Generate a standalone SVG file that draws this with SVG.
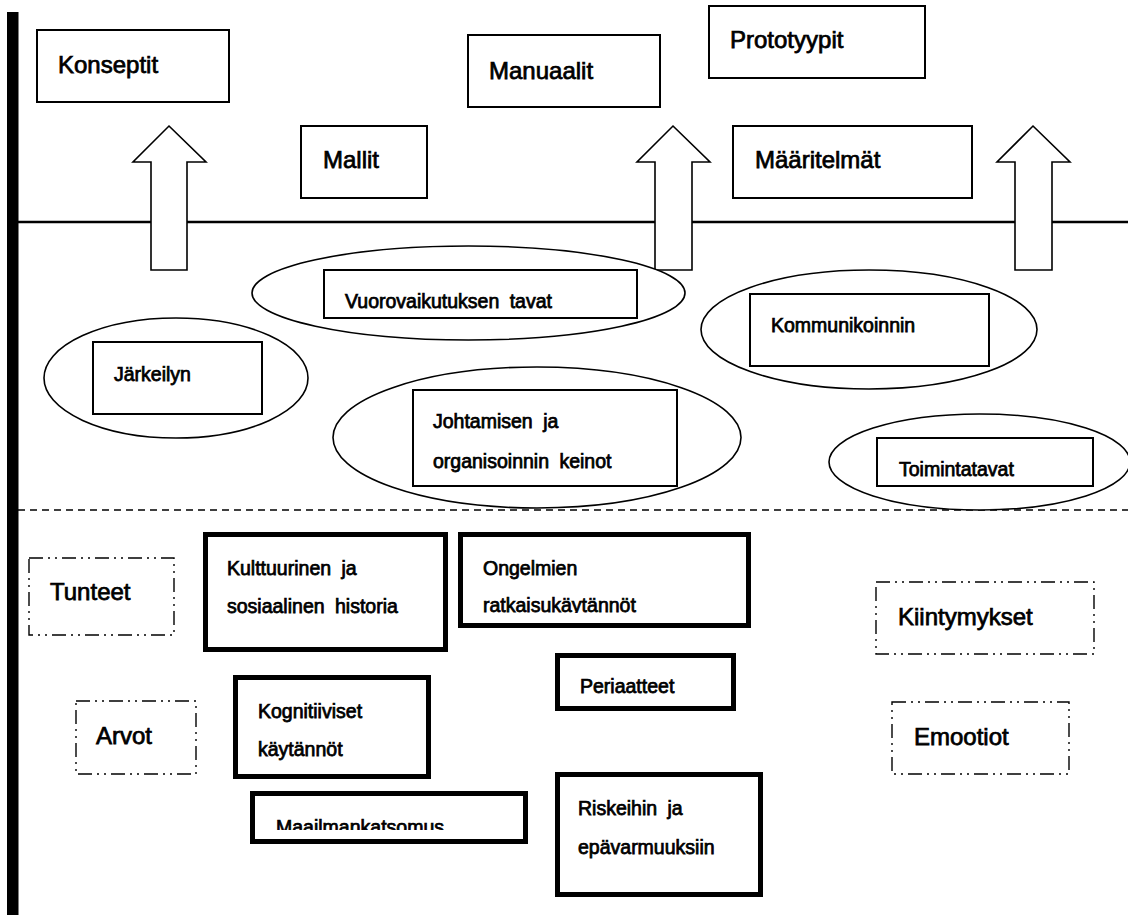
<svg xmlns="http://www.w3.org/2000/svg" width="1128" height="915" viewBox="0 0 1128 915">
  <style>
    .box{fill:#fff;stroke:#000;stroke-width:2}
    .thick{fill:#fff;stroke:#000;stroke-width:5}
    .dd{fill:#fff;stroke:#000;stroke-width:1.4;stroke-dasharray:14 5 2 5 2 5}
    .ell{fill:#fff;stroke:#000;stroke-width:1.6}
    .arrow{fill:#fff;stroke:#000;stroke-width:1.6;stroke-linejoin:miter}
    text{font-family:"Liberation Sans",Arial,Helvetica,sans-serif;fill:#000;stroke:#000;stroke-width:0.75}
    .lg{font-size:24px}
    .sm{font-size:19.5px;word-spacing:5px}
  </style>
  <defs>
    <clipPath id="clipRatk"><rect x="458" y="532" width="293" height="81"/></clipPath>
    <clipPath id="clipMaail"><rect x="250" y="791" width="278" height="39"/></clipPath>
  </defs>

  <!-- frame lines -->
  <g id="frame">
    <rect x="7" y="12" width="11.5" height="903" fill="#000"/>
    <line x1="18" y1="222" x2="1128" y2="222" stroke="#000" stroke-width="2.6"/>
    <line x1="18" y1="510" x2="1128" y2="510" stroke="#000" stroke-width="1.3" stroke-dasharray="7 5"/>
  </g>

  <!-- upper level: outputs -->
  <g id="konseptit"><rect class="box" x="37" y="30" width="192" height="72"/><text class="lg" x="58" y="73">Konseptit</text></g>
  <g id="mallit"><rect class="box" x="301" y="126" width="126" height="72"/><text class="lg" x="323" y="168">Mallit</text></g>
  <g id="manuaalit"><rect class="box" x="468" y="35" width="192" height="72"/><text class="lg" x="489" y="79">Manuaalit</text></g>
  <g id="prototyypit"><rect class="box" x="709" y="6" width="216" height="72"/><text class="lg" x="730" y="48">Prototyypit</text></g>
  <g id="maaritelmat"><rect class="box" x="733" y="126" width="239" height="72"/><text class="lg" x="755" y="168">Määritelmät</text></g>

  <!-- upward block arrows -->
  <g id="connectors">
    <polygon class="arrow" points="169,126 206,162 187,162 187,270 151,270 151,162 133,162"/>
    <polygon class="arrow" points="673,126 710,162 692,162 692,270 655,270 655,162 637,162"/>
    <polygon class="arrow" points="1033,126 1070,162 1052,162 1052,270 1015,270 1015,162 997,162"/>
  </g>

  <!-- middle level: ways of acting -->
  <g id="vuorovaikutus">
    <ellipse class="ell" cx="468.5" cy="293" rx="216.5" ry="47"/>
    <rect class="box" x="324" y="270" width="313" height="48"/>
    <text class="sm" x="345" y="308">Vuorovaikutuksen tavat</text>
  </g>
  <g id="jarkeily">
    <ellipse class="ell" cx="176" cy="378" rx="132" ry="60"/>
    <rect class="box" x="93" y="342" width="169" height="72"/>
    <text class="sm" x="114" y="381">Järkeilyn</text>
  </g>
  <g id="kommunikointi">
    <ellipse class="ell" cx="869" cy="329.5" rx="168" ry="59.5"/>
    <rect class="box" x="750" y="294" width="239" height="72"/>
    <text class="sm" x="771" y="332">Kommunikoinnin</text>
  </g>
  <g id="johtaminen">
    <ellipse class="ell" cx="537" cy="437.5" rx="204" ry="70.5"/>
    <rect class="box" x="413" y="390" width="264" height="96"/>
    <text class="sm" x="433" y="428">Johtamisen ja</text>
    <text class="sm" x="433" y="468">organisoinnin keinot</text>
  </g>
  <g id="toimintatavat">
    <ellipse class="ell" cx="979.5" cy="462" rx="150.5" ry="48"/>
    <rect class="box" x="877" y="438" width="216" height="48"/>
    <text class="sm" x="899" y="476">Toimintatavat</text>
  </g>

  <!-- lower level: foundations -->
  <g id="tunteet"><rect class="dd" x="29" y="558" width="145" height="77"/><text class="lg" x="50" y="600">Tunteet</text></g>
  <g id="arvot"><rect class="dd" x="76" y="701" width="120" height="73"/><text class="lg" x="96" y="744">Arvot</text></g>
  <g id="kiintymykset"><rect class="dd" x="876" y="582" width="218" height="72"/><text class="lg" x="898" y="625">Kiintymykset</text></g>
  <g id="emootiot"><rect class="dd" x="892" y="702" width="177" height="72"/><text class="lg" x="914" y="745">Emootiot</text></g>

  <g id="kulttuuri">
    <rect class="thick" x="205.5" y="534.5" width="240" height="115"/>
    <text class="sm" x="227" y="575">Kulttuurinen ja</text>
    <text class="sm" x="227" y="613">sosiaalinen historia</text>
  </g>
  <g id="ongelmat">
    <rect class="thick" x="460.5" y="534.5" width="288" height="91"/>
    <text class="sm" x="483" y="575">Ongelmien</text>
    <text class="sm" x="483" y="612" clip-path="url(#clipRatk)">ratkaisukäytännöt</text>
  </g>
  <g id="periaatteet">
    <rect class="thick" x="557.5" y="655.5" width="176" height="53"/>
    <text class="sm" x="580" y="693">Periaatteet</text>
  </g>
  <g id="kognitio">
    <rect class="thick" x="235.5" y="677.5" width="193" height="99"/>
    <text class="sm" x="258" y="718">Kognitiiviset</text>
    <text class="sm" x="258" y="756">käytännöt</text>
  </g>
  <g id="maailmankatsomus">
    <rect class="thick" x="252.5" y="793.5" width="273" height="48"/>
    <text class="sm" x="276" y="834" clip-path="url(#clipMaail)">Maailmankatsomus</text>
  </g>
  <g id="riskit">
    <rect class="thick" x="557.5" y="774.5" width="203" height="120"/>
    <text class="sm" x="578" y="815">Riskeihin ja</text>
    <text class="sm" x="578" y="854">epävarmuuksiin</text>
  </g>
</svg>
